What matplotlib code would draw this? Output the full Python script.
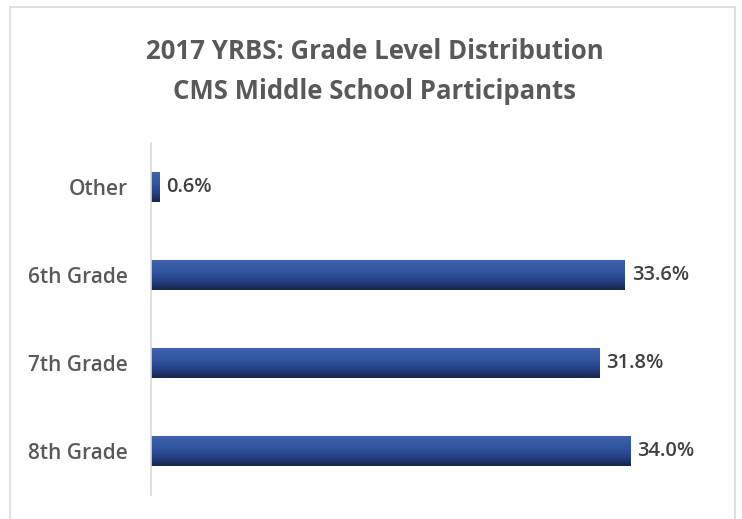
import numpy as np
import matplotlib.pyplot as plt
from matplotlib.patches import Rectangle
from matplotlib.colors import LinearSegmentedColormap

plt.rcParams['font.family'] = ['Open Sans', 'DejaVu Sans']

categories = ['8th Grade', '7th Grade', '6th Grade', 'Other']
values = [34.0, 31.8, 33.6, 0.6]
labels = ['34.0%', '31.8%', '33.6%', '0.6%']

fig = plt.figure(figsize=(7.42, 5.19), dpi=100)
fig.patches.append(Rectangle((10 / 742, -0.01), 725 / 742, 1 - 7 / 519 + 0.01,
                             transform=fig.transFigure, fill=False,
                             edgecolor='#d9d9d9', linewidth=1.2))

ax = fig.add_axes([151 / 742, 24 / 519, 564 / 742, 352 / 519])
y = np.arange(len(categories))
bars = ax.barh(y, values, height=0.34, color='#2b4a8a', edgecolor='none')

# vertical gradient to mimic the 3D bar look
cmap = LinearSegmentedColormap.from_list('bar', ['#18264f', '#26448a', '#3257a3', '#3e63ad'])
grad = np.linspace(0, 1, 64).reshape(-1, 1)
for b in bars:
    x0, y0 = b.get_x(), b.get_y()
    w, h = b.get_width(), b.get_height()
    im = ax.imshow(grad, extent=[x0, x0 + w, y0, y0 + h], origin='lower',
                   cmap=cmap, aspect='auto', zorder=2)
    im.set_clip_path(b)

for yi, v, lab in zip(y, values, labels):
    ax.text(v + 0.5, yi, lab, va='center', ha='left', fontsize=14.5,
            fontweight='semibold', color='#404040')

ax.set_xlim(0, 40)
ax.set_ylim(-0.5, len(categories) - 0.5)
ax.set_yticks(y)
ax.set_yticklabels(categories, fontsize=15, fontweight='semibold', color='#595959')
ax.tick_params(axis='y', length=0, pad=17)
ax.set_xticks([])
for s in ['top', 'right', 'bottom']:
    ax.spines[s].set_visible(False)
ax.spines['left'].set_color('#d9d9d9')
ax.spines['left'].set_linewidth(1.2)

fig.text(0.505, 0.900, '2017 YRBS: Grade Level Distribution', ha='center',
         va='center', fontsize=18.5, fontweight='bold', color='#595959')
fig.text(0.505, 0.823, 'CMS Middle School Participants', ha='center',
         va='center', fontsize=18.5, fontweight='bold', color='#595959')

plt.savefig('out.png', dpi=100)
